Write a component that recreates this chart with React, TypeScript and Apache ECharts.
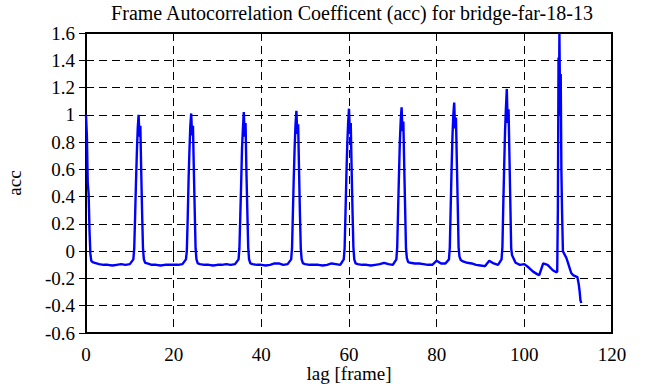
import React, { useEffect, useRef } from "react";
import * as echarts from "echarts";

const titleText = "Frame Autocorrelation Coefficent (acc) for bridge-far-18-13";
const xName = "lag [frame]";
const yName = "acc";

const lag: number[] = [
  0, 0.2, 0.4, 0.6, 0.8, 1, 1.2, 1.5,
  2, 3, 4, 5, 6, 7, 8, 9, 10,
  10.8, 11, 11.2, 11.4, 11.6, 11.8, 12, 12.2, 12.4, 12.6, 12.8, 13, 13.2, 13.5,
  14, 15, 16, 17, 18, 19, 20, 21, 22,
  22.8, 23, 23.2, 23.4, 23.6, 23.8, 24, 24.2, 24.4, 24.6, 24.8, 25, 25.2, 25.5,
  26, 27, 28, 29, 30, 31, 32, 33, 34,
  34.8, 35, 35.2, 35.4, 35.6, 35.8, 36, 36.2, 36.4, 36.6, 36.8, 37, 37.2, 37.5,
  38, 39, 40, 41, 42, 43, 44, 45, 46,
  46.8, 47, 47.2, 47.4, 47.6, 47.8, 48, 48.2, 48.4, 48.6, 48.8, 49, 49.2, 49.5,
  50, 51, 52, 53, 54, 55, 56, 57, 58,
  58.8, 59, 59.2, 59.4, 59.6, 59.8, 60, 60.2, 60.4, 60.6, 60.8, 61, 61.2, 61.5,
  62, 63, 64, 65, 66, 67, 68, 69, 70,
  70.8, 71, 71.2, 71.4, 71.6, 71.8, 72, 72.2, 72.4, 72.6, 72.8, 73, 73.2, 73.5,
  74, 75, 76, 77, 78, 79, 80, 81, 82,
  82.8, 83, 83.2, 83.4, 83.6, 83.8, 84, 84.2, 84.4, 84.6, 84.8, 85, 85.2, 85.5,
  86, 87, 88, 89, 90, 91, 92, 93, 94,
  94.8, 95, 95.2, 95.4, 95.6, 95.8, 96, 96.2, 96.4, 96.6, 96.8, 97, 97.2, 97.5,
  98, 99, 100, 101, 102, 103, 103.4, 104.3, 105.3, 106.5, 107.3,
  107.5, 107.65, 107.8, 107.9, 108, 108.15, 108.3, 108.45, 108.6, 108.8,
  109.2, 109.6, 110, 110.3, 110.7, 111.1, 112.1, 112.4, 112.6, 112.8, 113,
];

const acc: number[] = [
  1.0, 0.85, 0.5, 0.42, 0.15, -0.02, -0.07, -0.08,
  -0.085, -0.095, -0.1, -0.1, -0.105, -0.1, -0.095, -0.1, -0.095,
  -0.06, 0.02, 0.25, 0.5, 0.72, 0.9, 1.0, 0.84, 0.92, 0.58, 0.28, 0.02, -0.06, -0.085,
  -0.09, -0.1, -0.1, -0.105, -0.1, -0.1, -0.1, -0.1, -0.095,
  -0.06, 0.0, 0.24, 0.52, 0.74, 0.92, 1.01, 0.85, 0.92, 0.6, 0.3, 0.02, -0.06, -0.09,
  -0.095, -0.1, -0.1, -0.105, -0.1, -0.1, -0.095, -0.1, -0.095,
  -0.06, 0.02, 0.26, 0.5, 0.76, 0.9, 1.02, 0.84, 0.94, 0.58, 0.3, 0.03, -0.06, -0.09,
  -0.095, -0.1, -0.1, -0.105, -0.1, -0.09, -0.09, -0.1, -0.095,
  -0.06, 0.02, 0.28, 0.54, 0.76, 0.93, 1.03, 0.86, 0.93, 0.6, 0.28, 0.02, -0.06, -0.09,
  -0.095, -0.1, -0.1, -0.1, -0.105, -0.1, -0.09, -0.095, -0.1,
  -0.06, 0.02, 0.28, 0.55, 0.78, 0.94, 1.045, 0.86, 0.94, 0.6, 0.3, 0.03, -0.06, -0.09,
  -0.095, -0.1, -0.1, -0.105, -0.1, -0.095, -0.085, -0.095, -0.1,
  -0.06, 0.03, 0.3, 0.56, 0.8, 0.96, 1.055, 0.88, 0.95, 0.62, 0.32, 0.02, -0.05, -0.08,
  -0.085, -0.09, -0.09, -0.095, -0.1, -0.1, -0.07, -0.09, -0.09,
  -0.06, 0.03, 0.32, 0.6, 0.84, 1.0, 1.09, 0.9, 0.98, 0.66, 0.35, 0.03, -0.04, -0.065,
  -0.075, -0.085, -0.09, -0.1, -0.105, -0.11, -0.07, -0.09, -0.1,
  -0.06, 0.03, 0.34, 0.62, 0.88, 1.05, 1.19, 0.94, 1.04, 0.7, 0.36, 0.02, -0.03, -0.05,
  -0.085, -0.1, -0.095, -0.12, -0.15, -0.17, -0.175, -0.09, -0.1, -0.14, -0.155,
  -0.15, 0.3, 1.42, 1.0, 1.6, 1.1, 1.3, 0.6, 0.3, 0.0,
  -0.025, -0.05, -0.09, -0.12, -0.16, -0.175, -0.19, -0.24, -0.29, -0.36, -0.38,
];

const FONT = "Liberation Serif";

export default function App() {
  const ref = useRef<HTMLDivElement>(null);
  useEffect(() => {
    if (!ref.current) return;
    const chart = echarts.init(ref.current, undefined, { renderer: "svg" });
    const data = lag.map((x, i) => [x, acc[i]]);
    const tickStyle = { show: true, inside: true, length: 7, lineStyle: { color: "#000", width: 1 } };
    const labelStyle = { fontFamily: FONT, fontSize: 19, color: "#000", fontWeight: "normal" };
    chart.setOption({
      animation: false,
      backgroundColor: "#fff",
      textStyle: { fontFamily: FONT, fontSize: 19, color: "#000" },
      title: {
        text: titleText,
        left: 347,
        top: -2,
        textAlign: "center",
        textStyle: { fontFamily: FONT, fontSize: 20, fontWeight: "normal", color: "#000" },
      },
      grid: {
        left: 86,
        right: 44,
        top: 33,
        bottom: 54,
        containLabel: false,
        outerBoundsMode: "none",
        show: true,
        borderColor: "#000",
        borderWidth: 2,
        backgroundColor: "transparent",
      },
      xAxis: [
        {
          type: "value",
          min: 0,
          max: 120,
          interval: 20,
          name: xName,
          nameLocation: "middle",
          nameGap: 31,
          nameMoveOverlap: false,
          nameTextStyle: labelStyle,
          axisLine: { show: false },
          axisTick: tickStyle,
          axisLabel: { fontFamily: FONT, fontSize: 19, color: "#000", margin: 12 },
          splitLine: { show: true, lineStyle: { color: "#000", width: 1, type: [8, 5] } },
        },
        {
          type: "value",
          position: "top",
          min: 0,
          max: 120,
          interval: 20,
          axisLine: { show: false },
          axisTick: tickStyle,
          axisLabel: { show: false },
          splitLine: { show: false },
        },
      ],
      yAxis: [
        {
          type: "value",
          min: -0.6,
          max: 1.6,
          interval: 0.2,
          name: yName,
          nameLocation: "middle",
          nameGap: 62,
          nameMoveOverlap: false,
          nameRotate: 90,
          nameTextStyle: labelStyle,
          axisLine: { show: false },
          axisTick: tickStyle,
          axisLabel: { fontFamily: FONT, fontSize: 19, color: "#000", margin: 11 },
          splitLine: { show: true, lineStyle: { color: "#000", width: 1, type: [8, 5] } },
        },
        {
          type: "value",
          position: "right",
          min: -0.6,
          max: 1.6,
          interval: 0.2,
          axisLine: { show: false },
          axisTick: tickStyle,
          axisLabel: { show: false },
          splitLine: { show: false },
        },
      ],
      series: [
        {
          type: "line",
          data,
          xAxisIndex: 0,
          yAxisIndex: 0,
          showSymbol: false,
          symbol: "none",
          lineStyle: { color: "#0000ff", width: 2.4 },
          clip: true,
        },
      ],
    });
    return () => chart.dispose();
  }, []);
  return (
    <div
      ref={ref}
      style={{ position: "absolute", left: 0, top: 0, width: 656, height: 387, background: "#fff" }}
    />
  );
}
